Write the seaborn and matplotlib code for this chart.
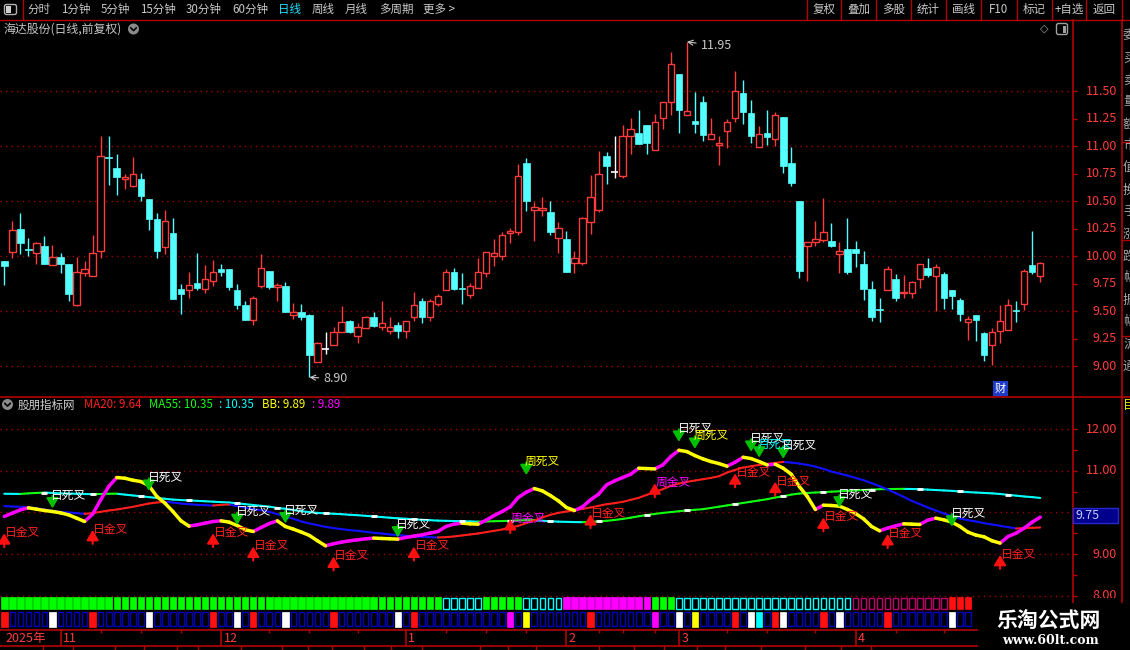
import numpy as np
import pandas as pd
import matplotlib
matplotlib.use("Agg")
import matplotlib.pyplot as plt
from matplotlib.patches import Rectangle, Circle, FancyBboxPatch
import seaborn as sns

# ---------------- values ----------------
opens = [9.96, 10.04, 10.25, 10.07, 10.03, 10.09, 9.92, 9.99, 9.93, 9.56,
         9.85, 9.82, 10.05, 10.90, 10.80, 10.70, 10.64, 10.70, 10.52, 10.34,
         10.08, 10.21, 9.70, 9.69, 9.76, 9.70, 9.78, 9.88, 9.88, 9.69,
         9.56, 9.42, 9.73, 9.87, 9.72, 9.73, 9.47, 9.49, 9.47, 9.04,
         9.16, 9.19, 9.31, 9.41, 9.28, 9.35, 9.45, 9.36, 9.32, 9.38,
         9.32, 9.45, 9.59, 9.45, 9.57, 9.69, 9.86, 9.71, 9.65, 9.71,
         9.85, 10.00, 10.00, 10.21, 10.22, 10.85, 10.42, 10.42, 10.40, 10.17,
         10.16, 9.94, 9.94, 10.31, 10.42, 10.91, 10.77, 10.73, 11.09, 11.12,
         11.19, 10.97, 11.26, 11.40, 11.66, 11.28, 11.23, 11.40, 11.07, 11.01,
         11.14, 11.26, 11.48, 11.30, 10.99, 11.12, 11.07, 11.27, 10.85, 10.50,
         10.09, 10.13, 10.15, 10.14, 10.02, 10.07, 10.07, 9.93, 9.70, 9.52,
         9.69, 9.79, 9.67, 9.67, 9.79, 9.89, 9.82, 9.84, 9.69, 9.60,
         9.40, 9.47, 9.30, 9.19, 9.32, 9.33, 9.51, 9.57, 9.92, 9.82]
highs = [9.96, 10.32, 10.39, 10.17, 10.13, 10.18, 10.10, 10.03, 9.93, 9.99,
         9.96, 10.19, 11.09, 11.09, 10.93, 10.75, 10.90, 10.76, 10.52, 10.39,
         10.42, 10.35, 9.75, 9.86, 10.03, 9.92, 9.97, 9.93, 9.88, 9.75,
         9.59, 9.64, 10.02, 9.87, 9.76, 9.77, 9.58, 9.57, 9.48, 9.22,
         9.31, 9.36, 9.55, 9.42, 9.39, 9.46, 9.49, 9.59, 9.45, 9.40,
         9.41, 9.68, 9.62, 9.61, 9.66, 9.88, 9.89, 9.85, 9.76, 9.98,
         10.04, 10.16, 10.22, 10.26, 10.84, 10.89, 10.49, 10.54, 10.50, 10.31,
         10.23, 10.05, 10.36, 10.74, 10.96, 10.95, 11.09, 11.19, 11.26, 11.33,
         11.19, 11.29, 11.40, 11.86, 11.66, 11.95, 11.49, 11.46, 11.26, 11.09,
         11.25, 11.68, 11.60, 11.42, 11.18, 11.33, 11.31, 11.27, 10.99, 10.50,
         10.13, 10.32, 10.53, 10.30, 10.13, 10.35, 10.14, 10.05, 9.78, 9.62,
         9.91, 9.84, 9.83, 9.78, 9.93, 9.98, 9.93, 9.86, 9.69, 9.62,
         9.46, 9.47, 9.31, 9.35, 9.56, 9.61, 9.59, 9.88, 10.23, 9.95]
lows = [9.74, 9.98, 10.02, 10.00, 9.93, 9.93, 9.92, 9.85, 9.59, 9.55,
        9.82, 9.82, 9.98, 10.65, 10.56, 10.61, 10.63, 10.50, 10.24, 9.98,
        10.02, 9.61, 9.48, 9.62, 9.69, 9.67, 9.73, 9.82, 9.69, 9.52,
        9.42, 9.38, 9.71, 9.70, 9.59, 9.49, 9.43, 9.42, 8.90, 9.04,
        9.11, 9.19, 9.31, 9.30, 9.21, 9.35, 9.36, 9.33, 9.29, 9.26,
        9.26, 9.41, 9.39, 9.41, 9.55, 9.69, 9.69, 9.57, 9.62, 9.71,
        9.81, 9.91, 9.97, 10.12, 10.19, 10.41, 10.14, 10.37, 10.19, 10.03,
        9.86, 9.85, 9.92, 10.20, 10.40, 10.66, 10.71, 10.71, 10.93, 11.02,
        10.93, 10.97, 11.16, 11.28, 11.12, 11.28, 11.12, 11.05, 11.07, 10.83,
        10.98, 11.22, 11.20, 11.03, 10.99, 11.01, 11.00, 10.76, 10.64, 9.80,
        9.78, 10.09, 10.13, 10.08, 9.85, 9.84, 9.90, 9.60, 9.41, 9.40,
        9.69, 9.59, 9.62, 9.62, 9.71, 9.81, 9.50, 9.52, 9.52, 9.41,
        9.24, 9.23, 9.05, 9.01, 9.21, 9.33, 9.40, 9.51, 9.84, 9.77]
closes = [9.91, 10.24, 10.12, 10.06, 10.12, 9.93, 9.99, 9.93, 9.66, 9.86,
          9.88, 10.03, 10.91, 10.89, 10.72, 10.72, 10.75, 10.55, 10.34, 10.05,
          10.32, 9.61, 9.66, 9.74, 9.71, 9.79, 9.86, 9.86, 9.72, 9.56,
          9.42, 9.62, 9.89, 9.72, 9.74, 9.49, 9.49, 9.45, 9.10, 9.21,
          9.16, 9.31, 9.40, 9.31, 9.36, 9.45, 9.37, 9.39, 9.36, 9.32,
          9.41, 9.56, 9.45, 9.59, 9.64, 9.86, 9.70, 9.70, 9.73, 9.86,
          10.04, 10.03, 10.19, 10.23, 10.73, 10.50, 10.45, 10.44, 10.22, 10.26,
          9.86, 9.98, 10.35, 10.54, 10.75, 10.82, 10.77, 11.09, 11.16, 11.02,
          11.03, 11.22, 11.40, 11.75, 11.33, 11.32, 11.20, 11.10, 11.11, 11.03,
          11.22, 11.50, 11.31, 11.09, 11.11, 11.08, 11.28, 10.82, 10.67, 9.87,
          10.13, 10.16, 10.22, 10.09, 10.05, 9.86, 10.03, 9.70, 9.45, 9.51,
          9.88, 9.62, 9.68, 9.77, 9.93, 9.83, 9.90, 9.62, 9.64, 9.48,
          9.43, 9.42, 9.10, 9.31, 9.41, 9.56, 9.50, 9.87, 9.86, 9.94]

ma20 = [10.152, 10.144, 10.136, 10.128, 10.104, 10.072, 10.040, 10.016, 10.000, 9.984,
        9.968, 9.984, 10.016, 10.048, 10.072, 10.104, 10.136, 10.176, 10.216, 10.240,
        10.256, 10.240, 10.216, 10.200, 10.184, 10.176, 10.168, 10.184, 10.192, 10.152,
        10.112, 10.080, 10.056, 10.016, 9.960, 9.904, 9.848, 9.784, 9.736, 9.696,
        9.656, 9.624, 9.600, 9.576, 9.560, 9.536, 9.512, 9.496, 9.472, 9.456,
        9.440, 9.424, 9.416, 9.408, 9.400, 9.408, 9.424, 9.448, 9.472, 9.496,
        9.528, 9.560, 9.592, 9.632, 9.680, 9.744, 9.808, 9.880, 9.944, 9.992,
        10.024, 10.056, 10.088, 10.120, 10.160, 10.200, 10.224, 10.256, 10.304, 10.352,
        10.424, 10.488, 10.560, 10.640, 10.696, 10.736, 10.768, 10.800, 10.832, 10.872,
        10.960, 11.024, 11.080, 11.112, 11.144, 11.168, 11.192, 11.216, 11.200, 11.176,
        11.144, 11.104, 11.048, 10.984, 10.936, 10.888, 10.832, 10.776, 10.704, 10.632,
        10.552, 10.464, 10.376, 10.280, 10.200, 10.120, 10.048, 9.976, 9.912, 9.856,
        9.816, 9.784, 9.744, 9.712, 9.680, 9.648, 9.616, 9.624, 9.632, 9.640]
ma55 = [10.450, 10.448, 10.446, 10.460, 10.470, 10.478, 10.470, 10.460, 10.455, 10.450,
        10.445, 10.440, 10.445, 10.450, 10.452, 10.430, 10.410, 10.390, 10.370, 10.350,
        10.330, 10.310, 10.300, 10.290, 10.280, 10.270, 10.260, 10.250, 10.240, 10.220,
        10.200, 10.180, 10.160, 10.140, 10.110, 10.090, 10.060, 10.030, 10.010, 9.990,
        9.980, 9.970, 9.960, 9.945, 9.935, 9.920, 9.905, 9.890, 9.875, 9.860,
        9.850, 9.835, 9.825, 9.815, 9.805, 9.800, 9.795, 9.790, 9.785, 9.780,
        9.785, 9.790, 9.795, 9.800, 9.810, 9.815, 9.818, 9.800, 9.790, 9.780,
        9.775, 9.770, 9.768, 9.775, 9.785, 9.800, 9.820, 9.845, 9.875, 9.910,
        9.940, 9.965, 9.990, 10.010, 10.030, 10.050, 10.065, 10.080, 10.110, 10.140,
        10.170, 10.200, 10.230, 10.260, 10.290, 10.320, 10.360, 10.390, 10.430, 10.455,
        10.470, 10.480, 10.490, 10.500, 10.510, 10.520, 10.530, 10.540, 10.550, 10.560,
        10.563, 10.566, 10.568, 10.565, 10.560, 10.550, 10.540, 10.530, 10.520, 10.505,
        10.490, 10.480, 10.470, 10.460, 10.445, 10.425, 10.405, 10.385, 10.370, 10.350]
bb = [9.904, 9.984, 10.064, 10.112, 10.080, 10.048, 10.024, 9.992, 9.944, 9.864,
      9.784, 9.960, 10.304, 10.624, 10.840, 10.824, 10.776, 10.744, 10.648, 10.384,
      10.224, 10.024, 9.800, 9.672, 9.704, 9.744, 9.784, 9.800, 9.768, 9.688,
      9.584, 9.544, 9.640, 9.736, 9.800, 9.664, 9.600, 9.528, 9.448, 9.320,
      9.200, 9.248, 9.288, 9.320, 9.344, 9.368, 9.384, 9.376, 9.368, 9.360,
      9.400, 9.432, 9.464, 9.504, 9.544, 9.664, 9.720, 9.744, 9.728, 9.720,
      9.816, 9.928, 10.024, 10.136, 10.360, 10.488, 10.576, 10.520, 10.408, 10.280,
      10.120, 10.048, 10.136, 10.304, 10.440, 10.664, 10.760, 10.840, 10.920, 11.064,
      11.056, 11.048, 11.144, 11.344, 11.496, 11.464, 11.368, 11.288, 11.224, 11.176,
      11.112, 11.208, 11.328, 11.296, 11.224, 11.144, 11.160, 11.064, 10.920, 10.624,
      10.384, 10.072, 10.176, 10.168, 10.152, 10.072, 9.976, 9.848, 9.664, 9.560,
      9.624, 9.680, 9.728, 9.720, 9.712, 9.816, 9.864, 9.824, 9.768, 9.664,
      9.528, 9.456, 9.416, 9.320, 9.264, 9.424, 9.504, 9.624, 9.768, 9.888]
ma55_marks = [5, 11, 17, 23, 29, 34, 40, 46, 51, 57, 63, 68, 74, 80, 85, 91,
              97, 102, 108, 114, 119, 125]

cross_idx = [0, 6, 11, 18, 26, 29, 31, 35, 41, 49, 51, 63, 65, 73, 81, 84, 86,
             91, 93, 94, 96, 97, 102, 104, 110, 118, 124]
cross_val = [9.50, 10.10, 9.58, 10.52, 9.50, 9.70, 9.18, 9.74, 8.94, 9.40, 9.18,
             9.84, 10.90, 9.96, 10.70, 11.70, 11.53, 10.94, 11.46, 11.32, 10.74,
             11.29, 9.88, 10.12, 9.48, 9.66, 8.98]
cross_text = ["日金叉", "日死叉", "日金叉", "日死叉", "日金叉", "日死叉", "日金叉",
              "日死叉", "日金叉", "日死叉", "日金叉", "周金叉", "周死叉", "日金叉",
              "周金叉", "日死叉", "周死叉", "日金叉", "日死叉", "月死叉", "日金叉",
              "日死叉", "日金叉", "日死叉", "日金叉", "日死叉", "日金叉"]

# trend strip: G green, C cyan box, M magenta, D dark magenta box, R red
trend_codes = ("GGGGGGGGGG" "GGGGGGGGGG" "GGGGGGGGGG" "GGGGGGGGGG" "GGGGGGGGGG"
               "GGGGGCCCCC" "GGGGGCCCCC" "MMMMMMMMMM" "MGGGCCCCCC" "CCCCCCCCCC"
               "CCCCCCDDDD" "DDDDDDDDRR" "R")

month_idx = [7, 27, 50, 70, 84, 106]
month_labels = ["11", "12", "1", "2", "3", "4"]
week_idx = [12, 17, 22, 33, 38, 44, 55, 60, 65, 74, 77, 81, 90, 95, 101, 111, 117]

price_ticks = [9.00, 9.25, 9.50, 9.75, 10.00, 10.25, 10.50, 10.75, 11.00, 11.25, 11.50]
price_grid = [9.0, 9.5, 10.0, 10.5, 11.0, 11.5]
ind_grid = [8.0, 9.0, 10.0, 11.0, 12.0]
ind_ticks = [8.0, 8.5, 9.0, 9.5, 10.0, 10.5, 11.0, 11.5, 12.0]
ind_labels = [8.0, 9.0, 11.0, 12.0]

menu_items = ["分时", "1分钟", "5分钟", "15分钟", "30分钟", "60分钟", "日线", "周线", "月线", "多周期", "更多 >"]
tool_items = ["复权", "叠加", "多股", "统计", "画线", "F10", "标记", "+自选", "返回"]

# ---------------- style ----------------
sns.set_theme(style="dark", rc={"figure.facecolor": "black", "axes.facecolor": "black",
                                "savefig.facecolor": "black"})
plt.rcParams["font.family"] = ["Noto Sans CJK SC", "DejaVu Sans"]
plt.rcParams["axes.unicode_minus"] = False

UP = "#FF3C3C"
DN = "#54FFFF"
UI_RED = "#B40000"
TXT_RED = "#FF3C3C"
GRID_RED = "#A00000"
GRAY = "#C8C8C8"
DOTS = (0, (1, 3))

W, H = 1130, 650
fig = plt.figure(figsize=(W / 100, H / 100), dpi=100)


def px_axes(x0, y0, x1, y1):
    a = fig.add_axes([x0 / W, 1 - y1 / H, (x1 - x0) / W, (y1 - y0) / H])
    a.axis("off")
    return a


XL = (-0.535, 133.02)
MAIN_Y = (8.721, 12.148)
IND_Y = (7.945, 12.776)

idx = np.arange(len(closes))
o, h, l, c = map(np.array, (opens, highs, lows, closes))

# ---------------- main candlestick panel ----------------
ax = px_axes(0, 20, 1072.5, 397)
ax.hlines(price_grid, *XL, colors=GRID_RED, linestyles=DOTS, lw=1, zorder=1)
up = c > o
dn = c < o
eq = c == o
wick_col = np.where(up, UP, np.where(dn, DN, "white"))
ax.vlines(idx, l, h, colors=wick_col, lw=1, zorder=2)
ax.bar(idx[up], c[up] - o[up], bottom=o[up], width=0.8, facecolor="black",
       edgecolor=UP, lw=1, zorder=3)
ax.bar(idx[dn], np.maximum(o[dn] - c[dn], 0.01), bottom=c[dn], width=0.82,
       facecolor=DN, edgecolor=DN, lw=0.5, zorder=3)
ax.hlines(c[eq], idx[eq] - 0.42, idx[eq] + 0.42, colors="white", lw=1.2, zorder=3)
hi_i = int(np.argmax(h))
lo_i = int(np.argmin(l))
ax.annotate(f"{h[hi_i]:.2f}", xy=(hi_i, h[hi_i]), xytext=(10, -3), textcoords="offset points",
            color=GRAY, fontsize=9, va="center", ha="left",
            arrowprops=dict(arrowstyle="->", color=GRAY, lw=0.8, shrinkA=1, shrinkB=0))
ax.annotate(f"{l[lo_i]:.2f}", xy=(lo_i, l[lo_i]), xytext=(10, -1), textcoords="offset points",
            color=GRAY, fontsize=9, va="center", ha="left",
            arrowprops=dict(arrowstyle="->", color=GRAY, lw=0.8, shrinkA=1, shrinkB=0))
ax.set_xlim(XL)
ax.set_ylim(MAIN_Y)

lax = px_axes(1072.5, 20, 1121, 397)
lax.set_xlim(0, 48.5)
lax.set_ylim(MAIN_Y)
lax.hlines(price_ticks, 0, 4, colors=UI_RED, lw=1)
for p in price_ticks:
    lax.text(44.5, p, f"{p:.2f}", ha="right", va="center", color=TXT_RED, fontsize=9)

# ---------------- indicator panel ----------------
ax2 = px_axes(0, 397, 1072.5, 598)
ax2.hlines(ind_grid, *XL, colors=GRID_RED, linestyles=DOTS, lw=1, zorder=1)


def seg_frame(vals, up_col, dn_col):
    rows = []
    for k in range(1, len(vals)):
        col = up_col if vals[k] >= vals[k - 1] else dn_col
        rows.append((k, k - 1, vals[k - 1], col))
        rows.append((k, k, vals[k], col))
    return pd.DataFrame(rows, columns=["seg", "idx", "val", "color"])


for vals, uc, dc, lw in [(ma55, "#10FF10", "#00FFFF", 1.5),
                         (ma20, "#FF1E1E", "#1010FF", 1.5),
                         (bb, "#FF00FF", "#FFFF00", 2.5)]:
    df = seg_frame(vals, uc, dc)
    sns.lineplot(data=df, x="idx", y="val", hue="color", units="seg", estimator=None,
                 palette={k: k for k in df["color"].unique()}, lw=lw, legend=False,
                 sort=False, solid_capstyle="round", ax=ax2, zorder=3)
ax2.scatter(ma55_marks, [ma55[k] for k in ma55_marks], marker="_", s=18, lw=2,
            color="white", zorder=4)

label_col = {"日金叉": "#FF2020", "日死叉": "white", "周金叉": "#FF00FF",
             "周死叉": "#FFFF00", "月死叉": "#00FFFF"}
for k, v, t in zip(cross_idx, cross_val, cross_text):
    if "死" in t:
        ax2.annotate("", xy=(k, v), xytext=(0, 9), textcoords="offset points",
                     arrowprops=dict(arrowstyle="-|>,head_width=0.3,head_length=0.5",
                                     color="#00C000", lw=1.5, shrinkA=0, shrinkB=0), zorder=5)
        ax2.annotate(t, xy=(k, v), xytext=(-1, 9.5), textcoords="offset points",
                     ha="left", va="center", color=label_col[t], fontsize=8.5, zorder=6)
    else:
        ax2.annotate("", xy=(k, v), xytext=(0, -10), textcoords="offset points",
                     arrowprops=dict(arrowstyle="-|>,head_width=0.3,head_length=0.5",
                                     color="#FF1010", lw=1.5, shrinkA=0, shrinkB=0), zorder=5)
        ax2.annotate(t, xy=(k, v), xytext=(0.5, 0.5), textcoords="offset points",
                     ha="left", va="center", color=label_col[t], fontsize=8.5, zorder=6)
ax2.set_xlim(XL)
ax2.set_ylim(IND_Y)

lax2 = px_axes(1072.5, 397, 1121, 598)
lax2.set_xlim(0, 48.5)
lax2.set_ylim(IND_Y)
lax2.hlines(ind_ticks, 0, 4, colors=UI_RED, lw=1)
for p in ind_labels:
    lax2.text(44.5, p, f"{p:.2f}", ha="right", va="center", color=TXT_RED, fontsize=9,
              clip_on=True)

# ---------------- signal strips ----------------
sax = px_axes(0, 596, 1072.5, 629)
trend_col = {"G": ("#00FF00", True), "C": ("#00FFFF", False), "M": ("#FF00FF", True),
             "D": ("#C0006A", False), "R": ("#FF1010", True)}
for k, code in enumerate(trend_codes):
    col, filled = trend_col[code]
    if filled:
        sax.bar(k, 12, bottom=1, width=0.8, color=col, edgecolor=col, lw=0.5)
    else:
        sax.bar(k, 11, bottom=1.5, width=0.7, facecolor="none", edgecolor=col, lw=1)
event_col = {i: label_col[t] for i, t in zip(cross_idx, cross_text)}
event_col = {i: ("#FF1010" if col == "#FF2020" else col) for i, col in event_col.items()}
for k in range(len(trend_codes)):
    if k in event_col:
        sax.bar(k, 15, bottom=15.5, width=0.8, color=event_col[k], edgecolor=event_col[k], lw=0.5)
    else:
        sax.bar(k, 14, bottom=16, width=0.7, facecolor="none", edgecolor="#0000C0", lw=1)
sax.set_xlim(XL)
sax.set_ylim(33, 0)

# ---------------- time axis ----------------
tax = px_axes(0, 629, 1072.5, 650)
tax.set_xlim(XL)
tax.set_ylim(21, 0)
tax.hlines([0.5, 17], *XL, colors=UI_RED, lw=1.2)
tax.vlines(month_idx, 0.5, 17, colors=UI_RED, lw=1.2)
tax.vlines(week_idx, 0.5, 3.5, colors=UI_RED, lw=1)
for m, lab in zip(month_idx, month_labels):
    tax.text(m + 0.3, 9, lab, color=TXT_RED, fontsize=9, va="center", ha="left")
tax.text(0.005, 0.57, "2025年", transform=tax.transAxes, color=TXT_RED, fontsize=9,
         va="center", ha="left")

# ---------------- window chrome (pixel overlay) ----------------
ov = fig.add_axes([0, 0, 1, 1])
ov.set_xlim(0, W)
ov.set_ylim(H, 0)
ov.axis("off")

ov.plot([0, W], [19.5, 19.5], color=UI_RED, lw=1)
ov.plot([0, W], [397, 397], color=UI_RED, lw=1.2)
ov.plot([22.5, 22.5], [0, 19.5], color=UI_RED, lw=1)
ov.plot([1072.5, 1072.5], [19.5, H], color=UI_RED, lw=1.2)
ov.plot([1121.5, 1121.5], [19.5, H], color=UI_RED, lw=1.2)
for yy in [142, 240, 336]:
    ov.plot([1121.5, W], [yy, yy], color=UI_RED, lw=1)
for xx in [42.5, 73, 115, 144, 177, 198, 241, 282, 308, 331.5, 364, 391, 421.6, 480,
           508, 536, 599, 633.5, 664, 696.5, 725, 761, 804.6, 840.7, 871]:
    ov.plot([xx, xx], [646, H], color=UI_RED, lw=1)

ov.add_patch(FancyBboxPatch((4.5, 4.5), 12, 10, boxstyle="round,pad=0,rounding_size=2",
                            fc="none", ec="#B0B0B0", lw=1))
ov.add_patch(Rectangle((6, 6), 5, 7, fc="#D0D0D0", ec="none"))

menu_x = [39, 75.5, 115.5, 158, 204, 250, 289.5, 323.5, 356.5, 396, 439]
for xx, t in zip(menu_x, menu_items):
    ov.text(xx, 9.5, t, ha="center", va="center", fontsize=8.3,
            color="#22E0FF" if t == "日线" else GRAY)

sep_x = [807, 841.4, 876, 911, 946, 981.2, 1016.5, 1051.5, 1086.4, 1121.5]
for xx in sep_x:
    ov.plot([xx, xx], [0, 19.5], color=UI_RED, lw=1)
for a, b, t in zip(sep_x[:-1], sep_x[1:], tool_items):
    ov.text((a + b) / 2, 9.5, t, ha="center", va="center", fontsize=8.3, color=GRAY)

ov.text(3, 29, "海达股份(日线,前复权)", ha="left", va="center", fontsize=8.6, color=GRAY)
for cx, cy in [(133.5, 29), (7.5, 404.5)]:
    ov.add_patch(Circle((cx, cy), 5.5, fc="#8A8A8A", ec="none"))
    ov.plot([cx - 2.8, cx, cx + 2.8], [cy - 1.2, cy + 1.6, cy - 1.2], color="black", lw=1.2)
ov.text(1044, 29, "◇", ha="center", va="center", fontsize=8, color="#A0A0A0",
        family=["DejaVu Sans"])
ov.add_patch(FancyBboxPatch((1056.5, 23.5), 11, 11, boxstyle="round,pad=0,rounding_size=2",
                            fc="none", ec="#A0A0A0", lw=1))
ov.add_patch(Rectangle((1062.5, 25.5), 3, 7, fc="#A0A0A0", ec="none"))

head = [(18, "股朋指标网", "#D0D0D0"), (84, "MA20: 9.64", "#FF2020"),
        (149, "MA55: 10.35", "#10FF10"), (219, ": 10.35", "#00FFFF"),
        (262, "BB: 9.89", "#FFFF00"), (312, ": 9.89", "#FF00FF")]
for xx, t, col in head:
    ov.text(xx, 405, t, ha="left", va="center", fontsize=8.3, color=col)

ov.add_patch(Rectangle((993, 381), 15, 15, fc="#1E3CC8", ec="none"))
ov.text(1000.5, 388.5, "财", ha="center", va="center", fontsize=8, color="white")

ov.add_patch(Rectangle((1073, 508), 45, 15, fc="#00008C", ec="#2828D0", lw=1, zorder=5))
ov.text(1075, 515.5, "9.75", ha="left", va="center", fontsize=9, color="#C8C8FF", zorder=6)

for k, ch in enumerate("委买卖量额市值换手涨跌幅振幅流通"):
    ov.text(1123, 36 + 22 * k, ch, ha="left", va="center", fontsize=9, color="#A8A8A8")
ov.text(1123, 405, "目", ha="left", va="center", fontsize=9, color="#E0E000")

ov.add_patch(Rectangle((978, 603), W - 978, H - 603, fc="black", ec="none", zorder=20))
ov.text(1049, 620, "乐淘公式网", ha="center", va="center", fontsize=15, color="white",
        fontweight="bold", zorder=21)
ov.text(1050, 640, "www.60lt.com", ha="center", va="center", fontsize=9, color="white",
        fontweight="bold", family=["DejaVu Serif"], zorder=21)

fig.savefig("out.png", dpi=100, facecolor="black")
